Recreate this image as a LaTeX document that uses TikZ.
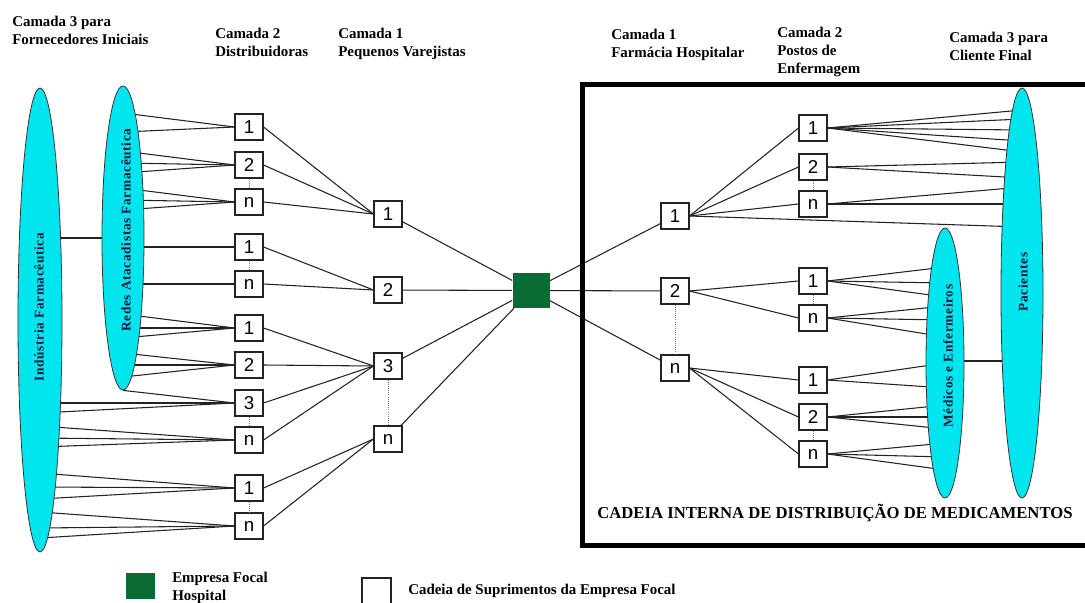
\documentclass[tikz,border=0pt]{standalone}
\usepackage{fontspec}
\setmainfont{Liberation Serif}
\setsansfont{Liberation Sans}
\usetikzlibrary{shapes.geometric}
\pgfdeclarelayer{fundo}
\pgfsetlayers{fundo,main}
\definecolor{ciano}{RGB}{0,229,238}
\definecolor{verdefocal}{RGB}{10,108,52}
\definecolor{linha}{RGB}{35,35,35}
\definecolor{tinta}{RGB}{20,25,60}

\begin{document}
\begin{tikzpicture}[x=0.75pt,y=0.75pt,yscale=-1,xscale=1,
	caixa/.style={draw=linha,fill=white,line width=0.8pt,minimum width=21pt,minimum height=19.5pt,inner sep=0pt,font=\sffamily\fontsize{14}{14}\selectfont},
	elipse/.style={ellipse,draw=black!80,fill=ciano,line width=0.6pt,inner sep=0pt},
	rotulo/.style={rotate=90,inner sep=0pt,text=tinta,font=\bfseries\fontsize{10}{10}\selectfont\addfontfeature{LetterSpace=5}},
	titulo/.style={anchor=north west,inner sep=0pt,align=left,font=\bfseries\fontsize{11.2}{13.5}\selectfont},
	liga/.style={draw=linha,line width=0.8pt},
	pontos/.style={draw=gray,densely dotted,line width=0.6pt}]
				\useasboundingbox (0,0) rectangle (1085,603);
				\draw (40,320) node [elipse,minimum width=33pt,minimum height=348pt] (ind) {};
				\draw (123,238) node [elipse,minimum width=31.5pt,minimum height=228pt] (redes) {};
				\draw (945,363) node [elipse,minimum width=28.5pt,minimum height=202.5pt] (med) {};
				\draw (1022,293) node [elipse,minimum width=31.5pt,minimum height=307.5pt] (pac) {};
				\draw (39,307) node [rotulo] (indtxt) {Indústria Farmacêutica};
				\draw (126,230) node [rotulo] (redestxt) {Redes Atacadistas Farmacêutica};
				\draw (948,356) node [rotulo] (medtxt) {Médicos e Enfermeiros};
				\draw (1023,282) node [rotulo] (pactxt) {Pacientes};
				\draw (249,127) node [caixa] (da1) {1};
				\draw (249,165) node [caixa] (da2) {2};
				\draw (249,202) node [caixa] (dan) {n};
				\draw (249,247) node [caixa] (db1) {1};
				\draw (249,284) node [caixa] (dbn) {n};
				\draw (249,328) node [caixa] (dc1) {1};
				\draw (249,365) node [caixa] (dc2) {2};
				\draw (249,403) node [caixa] (dc3) {3};
				\draw (249,440) node [caixa] (dcn) {n};
				\draw (249,488) node [caixa] (dd1) {1};
				\draw (249,526) node [caixa] (ddn) {n};
				\draw (388,214) node [caixa] (v1) {1};
				\draw (388,290) node [caixa] (v2) {2};
				\draw (388,366) node [caixa] (v3) {3};
				\draw (388,439) node [caixa] (vn) {n};
				\draw (531,290.5) node [fill=verdefocal,minimum width=27.75pt,minimum height=26.25pt,inner sep=0pt] (hosp) {};
				\draw (675,216) node [caixa] (f1) {1};
				\draw (675,291) node [caixa] (f2) {2};
				\draw (675,368) node [caixa] (fn) {n};
				\draw (813,128) node [caixa] (pa1) {1};
				\draw (813,167) node [caixa] (pa2) {2};
				\draw (813,204) node [caixa] (pan) {n};
				\draw (813,281) node [caixa] (pb1) {1};
				\draw (813,318) node [caixa] (pbn) {n};
				\draw (813,380) node [caixa] (pc1) {1};
				\draw (813,417) node [caixa] (pc2) {2};
				\draw (813,454) node [caixa] (pcn) {n};
				\begin{pgfonlayer}{fundo}
				\draw [liga] (ind.center |- 0,238) -- (redes.center |- 0,238);
				\draw [liga] (med.center |- 0,361) -- (pac.center |- 0,361);
				\draw [liga] (da1.west) -- (redes.center |- 0,113);
				\draw [liga] (da1.west) -- (redes.center |- 0,132);
				\draw [liga] (da2.west) -- (redes.center |- 0,151);
				\draw [liga] (da2.west) -- (redes.center |- 0,163);
				\draw [liga] (da2.west) -- (redes.center |- 0,173);
				\draw [liga] (dan.west) -- (redes.center |- 0,188);
				\draw [liga] (dan.west) -- (redes.center |- 0,200);
				\draw [liga] (dan.west) -- (redes.center |- 0,210);
				\draw [liga] (db1.west) -- (redes.center |- 0,247);
				\draw [liga] (dbn.west) -- (redes.center |- 0,284);
				\draw [liga] (dc1.west) -- (redes.center |- 0,314);
				\draw [liga] (dc1.west) -- (redes.center |- 0,328);
				\draw [liga] (dc1.west) -- (redes.center |- 0,338);
				\draw [liga] (dc2.west) -- (redes.center |- 0,353);
				\draw [liga] (dc2.west) -- (redes.center |- 0,365);
				\draw [liga] (dc2.west) -- (redes.center |- 0,377);
				\draw [liga] (dc3.west) -- (redes.south);
				\draw [liga] (dc3.west) -- (ind.center |- 0,403);
				\draw [liga] (dc3.west) -- (ind.center |- 0,413);
				\draw [liga] (dcn.west) -- (ind.center |- 0,426);
				\draw [liga] (dcn.west) -- (ind.center |- 0,438);
				\draw [liga] (dcn.west) -- (ind.center |- 0,447);
				\draw [liga] (dd1.west) -- (ind.center |- 0,473);
				\draw [liga] (dd1.west) -- (ind.center |- 0,487);
				\draw [liga] (dd1.west) -- (ind.center |- 0,499);
				\draw [liga] (ddn.west) -- (ind.center |- 0,512);
				\draw [liga] (ddn.west) -- (ind.center |- 0,528);
				\draw [liga] (ddn.west) -- (ind.center |- 0,538);
				\draw [liga] (da1.east) -- (v1.west);
				\draw [liga] (da2.east) -- (v1.west);
				\draw [liga] (dan.east) -- (v1.west);
				\draw [liga] (db1.east) -- (v2.west);
				\draw [liga] (dbn.east) -- (v2.west);
				\draw [liga] (dc1.east) -- (v3.west);
				\draw [liga] (dc2.east) -- (v3.west);
				\draw [liga] (dc3.east) -- (v3.west);
				\draw [liga] (dcn.east) -- (v3.west);
				\draw [liga] (dd1.east) -- (vn.west);
				\draw [liga] (ddn.east) -- (vn.west);
				\draw [liga] (v1) -- (hosp);
				\draw [liga] (v2) -- (hosp);
				\draw [liga] (v3) -- (hosp);
				\draw [liga] (vn) -- (hosp);
				\draw [liga] (hosp) -- (f1);
				\draw [liga] (hosp) -- (f2);
				\draw [liga] (hosp) -- (fn);
				\draw [liga] (f1.east) -- (pa1.west);
				\draw [liga] (f1.east) -- (pa2.west);
				\draw [liga] (f1.east) -- (pan.west);
				\draw [liga] (f2.east) -- (pb1.west);
				\draw [liga] (f2.east) -- (pbn.west);
				\draw [liga] (fn.east) -- (pc1.west);
				\draw [liga] (fn.east) -- (pc2.west);
				\draw [liga] (fn.east) -- (pcn.west);
				\draw [liga] (f1.east) -- (pac.center |- 0,227);
				\draw [liga] (pa1.east) -- (pac.center |- 0,110);
				\draw [liga] (pa1.east) -- (pac.center |- 0,119);
				\draw [liga] (pa1.east) -- (pac.center |- 0,130);
				\draw [liga] (pa1.east) -- (pac.center |- 0,141);
				\draw [liga] (pa1.east) -- (pac.center |- 0,152);
				\draw [liga] (pa2.east) -- (pac.center |- 0,162);
				\draw [liga] (pa2.east) -- (pac.center |- 0,178);
				\draw [liga] (pan.east) -- (pac.center |- 0,187);
				\draw [liga] (pan.east) -- (pac.center |- 0,204);
				\draw [liga] (pb1.east) -- (med.center |- 0,267);
				\draw [liga] (pb1.east) -- (med.center |- 0,283);
				\draw [liga] (pb1.east) -- (med.center |- 0,297);
				\draw [liga] (pbn.east) -- (med.center |- 0,306);
				\draw [liga] (pbn.east) -- (med.center |- 0,320);
				\draw [liga] (pbn.east) -- (med.center |- 0,337);
				\draw [liga] (pc1.east) -- (med.center |- 0,363);
				\draw [liga] (pc1.east) -- (med.center |- 0,388);
				\draw [liga] (pc2.east) -- (med.center |- 0,405);
				\draw [liga] (pc2.east) -- (med.center |- 0,417);
				\draw [liga] (pc2.east) -- (med.center |- 0,429);
				\draw [liga] (pcn.east) -- (med.center |- 0,443);
				\draw [liga] (pcn.east) -- (med.center |- 0,457);
				\draw [liga] (pcn.east) -- (med.center |- 0,470);
				\end{pgfonlayer}
				\draw [pontos] (da2) -- (dan);
				\draw [pontos] (db1) -- (dbn);
				\draw [pontos] (dc3) -- (dcn);
				\draw [pontos] (dd1) -- (ddn);
				\draw [pontos] (v3) -- (vn);
				\draw [pontos] (f2) -- (fn);
				\draw [pontos] (pa2) -- (pan);
				\draw [pontos] (pb1) -- (pbn);
				\draw [pontos] (pc2) -- (pcn);
				\draw [line width=3.75pt] (582.5,84.5) rectangle (1100,545.5);
				\draw (835,518) node [anchor=base,inner sep=0pt,font=\bfseries\fontsize{12.5}{12.5}\selectfont] (cadeia) {CADEIA INTERNA DE DISTRIBUIÇÃO DE MEDICAMENTOS};
				\draw (12,15.5) node [titulo] (tit3f) {Camada 3 para\\Fornecedores Iniciais};
				\draw (215,28) node [titulo] (tit2d) {Camada 2\\Distribuidoras};
				\draw (338,28) node [titulo] (tit1v) {Camada 1\\Pequenos Varejistas};
				\draw (611,29) node [titulo] (tit1f) {Camada 1\\Farmácia Hospitalar};
				\draw (777,27) node [titulo] (tit2p) {Camada 2\\Postos de\\Enfermagem};
				\draw (949,32) node [titulo] (tit3c) {Camada 3 para\\Cliente Final};
				\draw (140.5,586) node [fill=verdefocal,minimum width=21.75pt,minimum height=19.5pt,inner sep=0pt] (legfocal) {};
				\draw (172,572) node [titulo] (legfocaltxt) {Empresa Focal\\Hospital};
				\draw (376.5,592) node [draw=linha,line width=0.8pt,minimum width=21.75pt,minimum height=21pt,inner sep=0pt] (legcadeia) {};
				\draw (408,594) node [anchor=base west,inner sep=0pt,font=\bfseries\fontsize{11.2}{13.5}\selectfont] (legcadeiatxt) {Cadeia de Suprimentos da Empresa Focal};
			\end{tikzpicture}
\end{document}
